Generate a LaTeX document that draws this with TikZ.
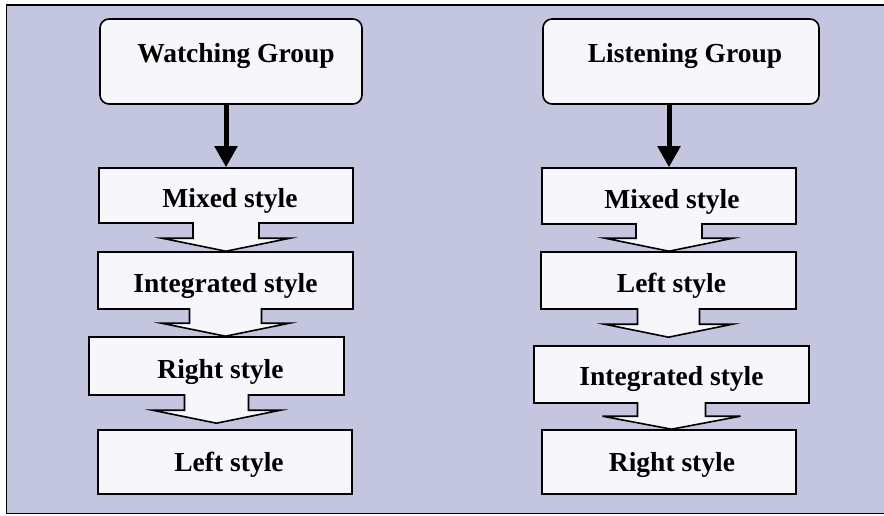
\documentclass[tikz,border=0pt]{standalone}
\usepackage{fontspec}
\setmainfont{Liberation Serif}
\usetikzlibrary{calc,arrows.meta}
\definecolor{panel}{RGB}{196,197,222}
\definecolor{boxfill}{RGB}{246,246,251}
\tikzset{
  stylebox/.style={draw=black, line width=1.6pt, fill=boxfill, inner sep=0pt,
    font=\fontsize{27.5}{30}\selectfont\bfseries, text height=30pt, text depth=6pt},
  groupbox/.style={stylebox, rounded corners=9pt, text height=20pt, text depth=17pt},
  mainarrow/.style={line width=5pt, -{Triangle[width=22pt,length=21pt]}},
  hollowside/.style={draw=black, line width=1.6pt, fill=boxfill, line join=miter}
}
% Hollow block arrow from the bottom of #2 down to the top of #3,
% with shaft half-width #4, head half-width #5 and a gap #1 above #3
\newcommand\flowarrow[5][0]{%
  \draw[hollowside]
    ($(#2.south)+(-#4,-1.6)$)
    -- ($(#2.south|-#3.north)+(-#4,-13-#1)$)
    -- ($(#2.south|-#3.north)+(-#5,-13-#1)$)
    -- ($(#2.south|-#3.north)+(0,-#1)$)
    -- ($(#2.south|-#3.north)+(#5,-13-#1)$)
    -- ($(#2.south|-#3.north)+(#4,-13-#1)$)
    -- ($(#2.south)+(#4,-1.6)$);}
\begin{document}
\begin{tikzpicture}[x=1pt,y=-1pt]
  \useasboundingbox (0,0) rectangle (884,516);
  % panel
  \fill[panel] (6.5,5) rectangle (884,513.5);
  \draw[line width=1.6pt, line cap=rect] (884,5) -- (6.5,5) -- (6.5,513.5) -- (884,513.5);

  % watching group column
  \node[groupbox, minimum width=262pt, minimum height=85pt] (wg) at (231,61.5) {\hspace*{10pt}Watching Group};
  \node[stylebox, minimum width=254pt, minimum height=55pt] (m1) at (226,195.5) {\hspace*{8pt}Mixed style};
  \node[stylebox, minimum width=255pt, minimum height=57pt] (i1) at (225.5,280.5) {Integrated style};
  \node[stylebox, minimum width=255pt, minimum height=58pt] (r1) at (216.5,366) {\hspace*{8pt}Right style};
  \node[stylebox, minimum width=254pt, minimum height=64pt, text depth=12pt] (l1) at (225,462) {\hspace*{8pt}Left style};

  % listening group column
  \node[groupbox, minimum width=276pt, minimum height=85pt] (lg) at (681,61.5) {\hspace*{8pt}Listening Group};
  \node[stylebox, minimum width=254pt, minimum height=56pt] (m2) at (669,196) {\hspace*{6pt}Mixed style};
  \node[stylebox, minimum width=255pt, minimum height=57pt] (l2) at (668.5,280.5) {\hspace*{6pt}Left style};
  \node[stylebox, minimum width=275pt, minimum height=57pt, text depth=9pt] (i2) at (671.5,374.5) {Integrated style};
  \node[stylebox, minimum width=254pt, minimum height=64pt, text depth=12pt] (r2) at (669,462) {\hspace*{6pt}Right style};

  % arrows
  \draw[mainarrow] (m1.north|-wg.south) -- (m1.north);
  \draw[mainarrow] (m2.north|-lg.south) -- (m2.north);

  \flowarrow{m1}{i1}{33}{64}
  \flowarrow{i1}{r1}{36}{64}
  \flowarrow[6]{r1}{l1}{32}{64}
  \flowarrow{m2}{l2}{33}{64}
  \flowarrow[8]{l2}{i2}{31}{64}
  \flowarrow{i2}{r2}{34}{69}
\end{tikzpicture}
\end{document}
